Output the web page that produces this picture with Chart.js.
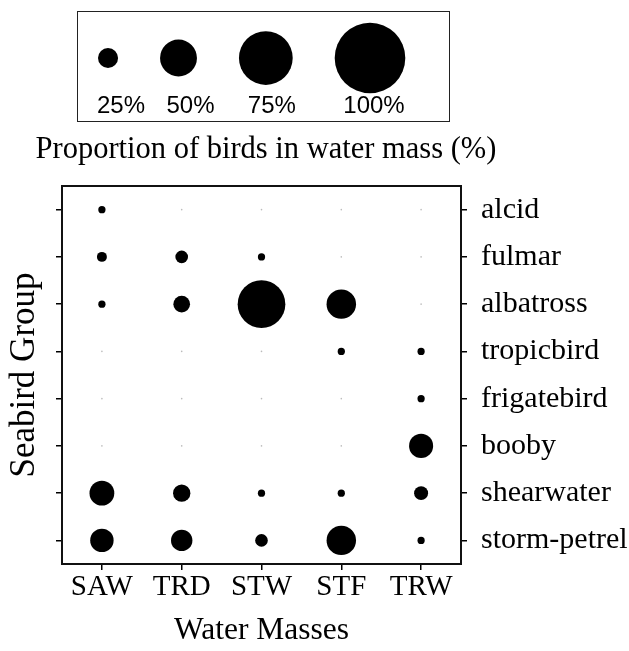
<!DOCTYPE html>
<html>
<head>
<meta charset="utf-8">
<script src="https://cdn.jsdelivr.net/npm/chart.js@4"></script>
<style>
  body { margin: 0; background: #fff; }
  #wrap { position: relative; width: 629px; height: 651px; }
  #main { position: absolute; left: 0; top: 0; }
  #legendBox { position: absolute; left: 77px; top: 11px; width: 371px; height: 109px; border: 1.5px solid #222; }
  #caption { position: absolute; left: 0; top: 131px; width: 532px; text-align: center;
    font: 30.5px 'Liberation Serif', 'Times New Roman', serif; color: #000; }
</style>
</head>
<body>
<div id="wrap">
  <canvas id="main" width="629" height="651"></canvas>
  <div id="legendBox"><canvas id="legend" width="371" height="109"></canvas></div>
  <div id="caption">Proportion of birds in water mass (%)</div>
</div>
<script>
const waterMasses = ['SAW', 'TRD', 'STW', 'STF', 'TRW'];
const groups = ['alcid', 'fulmar', 'albatross', 'tropicbird', 'frigatebird', 'booby', 'shearwater', 'storm-petrel'];

// percent of birds, one array per water mass, in the order of groups
const saw = [6, 10, 6, 0, 0, 0, 32, 30];
const trd = [0, 14, 20, 0, 0, 0, 21, 27];
const stw = [0, 6, 66, 0, 0, 0, 6, 14];
const stf = [0, 0, 39, 6, 0, 0, 6, 39];
const trw = [0, 0, 0, 6, 6, 31, 16, 6];

const legendValues = [25, 50, 75, 100];

const serif = "'Liberation Serif', 'Times New Roman', serif";

// bubble radius (px) for a percentage
function radius(p) {
  return p > 0 ? 1.6 + 0.337 * p : 0.8;
}

const columns = [saw, trd, stw, stf, trw];
const points = [];
columns.forEach((col, xi) => {
  col.forEach((p, yi) => {
    points.push({ x: xi, y: yi, r: radius(p), p: p });
  });
});

const frame = {
  id: 'frame',
  afterDraw(chart) {
    const { ctx, chartArea: a } = chart;
    ctx.save();
    ctx.strokeStyle = '#111';
    ctx.lineWidth = 2;
    ctx.strokeRect(a.left, a.top, a.right - a.left, a.bottom - a.top);
    ctx.restore();
  }
};

const groupTicks = (scale) => { scale.ticks = groups.map((g, i) => ({ value: i })); };

new Chart(document.getElementById('main'), {
  type: 'bubble',
  data: {
    datasets: [{
      data: points,
      backgroundColor: points.map(d => d.p > 0 ? '#000' : '#bbb'),
      borderWidth: 0,
      hoverRadius: 0
    }]
  },
  options: {
    responsive: false,
    animation: false,
    clip: false,
    layout: { autoPadding: false, padding: { top: 186, left: 0, right: 0, bottom: 0 } },
    plugins: { legend: { display: false }, tooltip: { enabled: false } },
    scales: {
      x: {
        type: 'linear', min: -0.5, max: 4.5,
        afterBuildTicks: (s) => { s.ticks = waterMasses.map((w, i) => ({ value: i })); },
        afterFit: (s) => { s.height = 87; },
        ticks: { callback: (v) => waterMasses[v], color: '#000', font: { family: serif, size: 29 }, padding: 0, maxRotation: 0, autoSkip: false },
        grid: { drawOnChartArea: false, tickLength: 6, color: '#000', lineWidth: 1.5 },
        border: { display: true, color: '#111', width: 2 },
        title: { display: true, text: 'Water Masses', color: '#000', font: { family: serif, size: 31.5 }, padding: { top: 0, bottom: 1 } }
      },
      y: {
        type: 'linear', position: 'left', min: -0.5, max: 7.5, reverse: true,
        afterBuildTicks: groupTicks,
        afterFit: (s) => { s.width = 62; },
        ticks: { callback: () => '', autoSkip: false },
        grid: { drawOnChartArea: false, tickLength: 6, color: '#000', lineWidth: 1.5 },
        border: { display: true, color: '#111', width: 2 },
        title: { display: true, text: 'Seabird Group', color: '#000', font: { family: serif, size: 35 }, padding: { top: 4, bottom: 0 } }
      },
      y2: {
        type: 'linear', position: 'right', min: -0.5, max: 7.5, reverse: true,
        afterBuildTicks: groupTicks,
        afterFit: (s) => { s.width = 168; },
        ticks: { callback: (v) => groups[v], color: '#000', font: { family: serif, size: 30 }, padding: 14, autoSkip: false },
        grid: { drawOnChartArea: false, tickLength: 6, color: '#000', lineWidth: 1.5 },
        border: { display: true, color: '#111', width: 2 }
      }
    }
  },
  plugins: [frame]
});

// size key: circles laid out left to right with a fixed gap
const gap = 42;
let cursor = 20;
const keyPoints = legendValues.map((p) => {
  const r = radius(p);
  const pt = { x: cursor + r, y: 46, r: r, p: p };
  cursor += 2 * r + gap;
  return pt;
});

const keyLabels = {
  id: 'keyLabels',
  afterDatasetsDraw(chart) {
    const { ctx } = chart;
    const meta = chart.getDatasetMeta(0);
    ctx.save();
    ctx.fillStyle = '#000';
    ctx.font = "24px 'Liberation Sans', Arial, sans-serif";
    ctx.textAlign = 'center';
    ctx.textBaseline = 'middle';
    const shift = [13, 12, 6, 4];
    meta.data.forEach((el, i) => {
      ctx.fillText(legendValues[i] + '%', el.x + shift[i], 94);
    });
    ctx.restore();
  }
};

new Chart(document.getElementById('legend'), {
  type: 'bubble',
  data: { datasets: [{ data: keyPoints, backgroundColor: '#000', borderWidth: 0, hoverRadius: 0 }] },
  options: {
    responsive: false,
    animation: false,
    clip: false,
    layout: { autoPadding: false, padding: 0 },
    plugins: { legend: { display: false }, tooltip: { enabled: false } },
    scales: {
      x: { type: 'linear', min: 0, max: 371, display: false },
      y: { type: 'linear', min: 0, max: 109, reverse: true, display: false }
    }
  },
  plugins: [keyLabels]
});
</script>
</body>
</html>
